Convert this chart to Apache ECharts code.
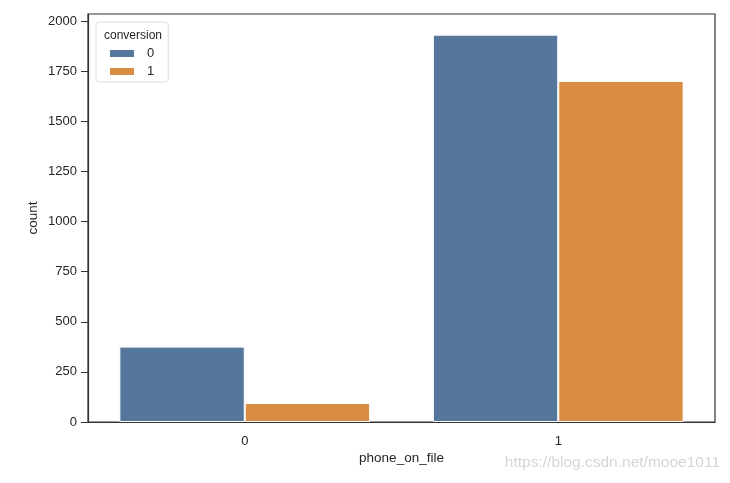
<!DOCTYPE html>
<html>
<head>
<meta charset="utf-8">
<script src="https://cdn.jsdelivr.net/npm/echarts@6/dist/echarts.min.js"></script>
<style>
html, body { margin: 0; padding: 0; background: #fff; }
#main { width: 730px; height: 483px; }
</style>
</head>
<body>
<div id="main"></div>
<script>
// data
var categories = ['0', '1'];
var seriesNames = ['0', '1'];
var conv0 = [376, 1932];
var conv1 = [95, 1701];
var yTicks = [0, 250, 500, 750, 1000, 1250, 1500, 1750, 2000];

var colors = ['#56779c', '#d98d43'];
var font = 'Liberation Sans, Arial, sans-serif';

var myChart = echarts.init(document.getElementById('main'));
var option = {
    animation: false,
    textStyle: { fontFamily: font },
    title: {
        text: 'conversion',
        left: 99,
        top: 25,
        textStyle: { fontSize: 12, fontWeight: 'normal', color: '#262626', fontFamily: font }
    },
    legend: {
        data: seriesNames,
        orient: 'vertical',
        left: 96,
        top: 22,
        padding: [25, 14, 4, 12],
        itemWidth: 26,
        itemHeight: 9,
        itemGap: 5,
        borderColor: '#dcdcdc',
        borderWidth: 1,
        borderRadius: 3,
        backgroundColor: 'rgba(255,255,255,0.8)',
        icon: 'rect',
        textStyle: { fontSize: 13, color: '#262626', padding: [0, 0, 0, 7] }
    },
    grid: {
        left: 88, right: 15, top: 14, bottom: 61,
        show: true, borderColor: '#333', borderWidth: 1.2
    },
    xAxis: {
        type: 'category',
        data: categories,
        name: 'phone_on_file',
        nameLocation: 'middle',
        nameMoveOverlap: false,
        nameGap: 29,
        nameTextStyle: { fontSize: 13.5, color: '#262626' },
        axisLine: { lineStyle: { color: '#333', width: 1.2 } },
        axisTick: { alignWithLabel: true, length: 6, lineStyle: { color: '#333' } },
        axisLabel: { fontSize: 13, color: '#262626', margin: 13 }
    },
    yAxis: {
        type: 'value',
        min: 0,
        max: 2035,
        interval: 250,
        name: 'count',
        nameLocation: 'middle',
        nameMoveOverlap: false,
        nameGap: 48,
        nameTextStyle: { fontSize: 13.5, color: '#262626' },
        splitLine: { show: false },
        axisLine: { show: true, lineStyle: { color: '#333', width: 1.2 } },
        axisTick: { show: true, length: 7, lineStyle: { color: '#333' }, customValues: yTicks },
        axisLabel: {
            fontSize: 13, color: '#262626', margin: 11, customValues: yTicks,
            formatter: function (v) { return String(v); }
        }
    },
    series: [
        {
            name: seriesNames[0],
            type: 'bar',
            data: conv0,
            barGap: '0%',
            barCategoryGap: '20%',
            itemStyle: { color: colors[0], borderColor: '#fff', borderWidth: 1 }
        },
        {
            name: seriesNames[1],
            type: 'bar',
            data: conv1,
            barGap: '0%',
            barCategoryGap: '20%',
            itemStyle: { color: colors[1], borderColor: '#fff', borderWidth: 1 }
        }
    ],
    graphic: [{
        type: 'text',
        right: 10,
        top: 455,
        style: {
            text: 'https://blog.csdn.net/mooe1011',
            fill: '#d5d5d5',
            font: '15.5px ' + font
        }
    }]
};
myChart.setOption(option, true);
</script>
</body>
</html>
